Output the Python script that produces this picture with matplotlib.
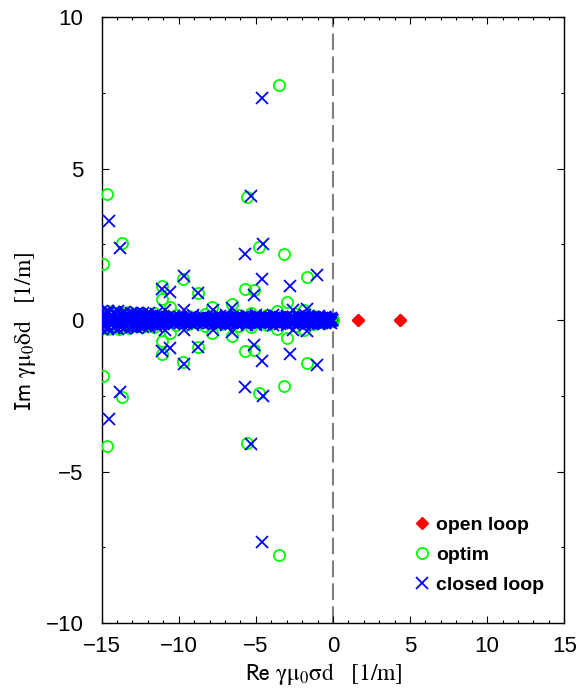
import numpy as np
import matplotlib
matplotlib.use("Agg")
import matplotlib.pyplot as plt

plt.rcParams['font.family'] = ['Liberation Sans', 'DejaVu Sans']
plt.rcParams['mathtext.fontset'] = 'stix'
plt.rcParams['mathtext.default'] = 'rm'

# ---- data: eigenvalues (upper half plane, conjugates are mirrored) ----
# open loop
open_re = [1.6, 4.36, -0.05, -0.18, -0.32, -0.47, -0.63, -0.8, -0.98, -1.17,
           -1.37, -1.58, -1.8, -2.05, -2.6, -3.3, -4.2, -5.4, -7.0, -9.0, -11.5, -14.2]
open_im = [0.0] * len(open_re)

# optim, off-axis pairs
optim_re = [-3.5, -14.65, -14.9, -13.7, -5.57, -4.8, -3.18, -9.72, -1.65, -11.1,
            -11.1, -10.56, -8.75, -7.84, -5.7, -5.12, -2.98, -6.55, -1.88, -3.63,
            -14.9, -14.55, -14.2, -13.9, -13.55, -13.2, -12.8, -12.4, -12.0, -11.6,
            -10.2, -9.3, -8.3, -7.2, -6.1, -5.3, -4.3, -2.4, -1.2, -0.6]
optim_im = [7.75, 4.15, 1.84, 2.54, 4.06, 2.41, 2.18, 1.37, 1.42, 1.12,
            0.69, 0.43, 0.89, 0.43, 1.02, 0.99, 0.59, 0.53, 0.33, 0.3,
            0.25, 0.3, 0.2, 0.28, 0.22, 0.27, 0.17, 0.24, 0.14, 0.22,
            0.17, 0.14, 0.2, 0.12, 0.18, 0.22, 0.16, 0.2, 0.14, 0.08]

# optim, real axis
optim_band = [-14.95, -14.7, -14.45, -14.2, -13.95, -13.7, -13.45, -13.2, -12.95, -12.7,
              -12.45, -12.2, -11.95, -11.7, -11.45, -11.2, -10.95, -10.7, -10.45, -10.2,
              -9.95, -9.7, -9.45, -9.2, -8.95, -8.7, -8.45, -8.2, -7.95, -7.7,
              -7.45, -7.2, -6.95, -6.7, -6.45, -6.2, -5.95, -5.7, -5.45, -5.2,
              -4.95, -4.7, -4.45, -4.2, -3.95, -3.7, -3.45, -3.2, -2.95, -2.7,
              -2.45, -2.2, -1.95, -1.7, -1.45, -1.2, -0.95, -0.7, -0.45, -0.2, 0.0]

# closed loop, off-axis pairs
closed_re = [-4.6, -14.5, -13.8, -5.31, -5.7, -4.54, -9.66, -1.04, -11.1, -10.56,
             -8.75, -4.6, -5.12, -2.79, -10.9, -9.66, -7.78, -6.55, -2.6, -1.69,
             -14.97, -14.8, -14.6, -14.4, -14.2, -13.95, -13.7, -13.5, -13.3, -13.1,
             -12.9, -12.7, -12.5, -12.3, -12.1, -11.9, -11.7, -11.5, -11.3, -10.3,
             -9.1, -8.4, -7.3, -6.9, -6.2, -5.6, -5.0, -4.4, -3.9, -3.4,
             -3.0, -2.2, -1.8, -1.3, -0.9, -0.5, -0.15]
closed_im = [7.33, 3.27, 2.38, 4.09, 2.2, 2.52, 1.45, 1.49, 1.02, 0.92,
             0.89, 1.35, 0.82, 1.12, 0.33, 0.33, 0.33, 0.39, 0.33, 0.36,
             0.3, 0.2, 0.3, 0.16, 0.26, 0.3, 0.19, 0.27, 0.14, 0.24,
             0.18, 0.25, 0.14, 0.22, 0.16, 0.23, 0.13, 0.19, 0.12, 0.14,
             0.16, 0.12, 0.14, 0.17, 0.12, 0.15, 0.17, 0.13, 0.16, 0.12,
             0.15, 0.13, 0.16, 0.12, 0.13, 0.1, 0.08]

# closed loop, small imaginary parts filling the band
fill_re = [-14.92, -14.75, -14.55, -14.36, -14.15, -13.98, -13.77, -13.58, -13.4, -13.2,
           -13.01, -12.83, -12.62, -12.44, -12.25, -12.05, -11.86, -11.67, -11.48, -11.28,
           -11.08, -10.88, -10.7, -10.5, -10.31, -10.12, -9.93, -9.74, -9.55, -9.36,
           -9.17, -8.98, -8.79, -8.6, -8.41, -8.22, -8.03, -7.85, -7.66, -7.47,
           -7.28, -7.1, -6.91, -6.72, -6.54, -6.35, -6.17, -5.98, -5.8, -5.62,
           -5.43, -5.25, -5.07, -4.89, -4.71, -4.53, -4.35, -4.17, -3.99, -3.82,
           -3.64, -3.47, -3.29, -3.12, -2.95, -2.78, -2.61, -2.44, -2.27, -2.1,
           -1.94, -1.78, -1.62, -1.46, -1.3, -1.15, -1.0, -0.85, -0.7, -0.56,
           -0.42, -0.28]
fill_im = [0.2, 0.12, 0.22, 0.1, 0.19, 0.13, 0.21, 0.09, 0.18, 0.12,
           0.2, 0.1, 0.16, 0.08, 0.14, 0.1, 0.15, 0.08, 0.12, 0.07,
           0.1, 0.06, 0.09, 0.05, 0.08, 0.06, 0.09, 0.05, 0.08, 0.06,
           0.09, 0.05, 0.08, 0.06, 0.09, 0.05, 0.08, 0.06, 0.09, 0.05,
           0.08, 0.06, 0.09, 0.05, 0.08, 0.06, 0.1, 0.06, 0.09, 0.07,
           0.1, 0.06, 0.09, 0.07, 0.1, 0.06, 0.09, 0.07, 0.1, 0.06,
           0.09, 0.07, 0.1, 0.06, 0.09, 0.07, 0.1, 0.06, 0.09, 0.07,
           0.1, 0.06, 0.09, 0.07, 0.1, 0.06, 0.09, 0.07, 0.08, 0.06,
           0.07, 0.05]

# closed loop, real axis
closed_band = [-14.98, -14.85, -14.71, -14.6, -14.47, -14.33, -14.2, -14.08, -13.95, -13.81,
               -13.7, -13.56, -13.43, -13.31, -13.18, -13.05, -12.92, -12.8, -12.66, -12.53,
               -12.41, -12.28, -12.15, -12.02, -11.9, -11.77, -11.64, -11.52, -11.39, -11.26,
               -11.14, -11.01, -10.89, -10.76, -10.64, -10.51, -10.39, -10.27, -10.14, -10.02,
               -9.9, -9.77, -9.65, -9.53, -9.41, -9.29, -9.17, -9.05, -8.93, -8.81,
               -8.69, -8.57, -8.45, -8.34, -8.22, -8.1, -7.99, -7.87, -7.76, -7.64,
               -7.53, -7.41, -7.3, -7.19, -7.07, -6.96, -6.85, -6.74, -6.63, -6.52,
               -6.41, -6.3, -6.19, -6.08, -5.98, -5.87, -5.76, -5.66, -5.55, -5.45,
               -5.34, -5.24, -5.13, -5.03, -4.93, -4.83, -4.73, -4.63, -4.53, -4.43,
               -4.33, -4.23, -4.13, -4.03, -3.94, -3.84, -3.75, -3.65, -3.56, -3.46,
               -3.37, -3.28, -3.19, -3.1, -3.01, -2.92, -2.83, -2.74, -2.65, -2.57,
               -2.48, -2.4, -2.31, -2.23, -2.15, -2.07, -1.98, -1.9, -1.82, -1.75,
               -1.67, -1.59, -1.51, -1.44, -1.36, -1.29, -1.22, -1.14, -1.07, -1.0,
               -0.93, -0.86, -0.8, -0.73, -0.66, -0.6, -0.54, -0.47, -0.41, -0.35,
               -0.29, -0.24, -0.18, -0.13, -0.08, -0.03]


def mirror(re, im):
    re = np.asarray(re, float)
    im = np.asarray(im, float)
    return np.concatenate([re, re]), np.concatenate([im, -im])


fig = plt.figure(figsize=(5.77, 6.9), dpi=100)
ax = fig.add_axes([0.176, 0.097, 0.802, 0.878])

ax.axvline(0, color='#808080', lw=1.5, dashes=(8, 3), zorder=1)

x, y = mirror(open_re, open_im)
ax.plot(x, y, ls='none', marker='D', ms=6, color='#ff0000', mec='#ff0000',
        label='open loop', zorder=2)

x, y = mirror(optim_re + optim_band, optim_im + [0.0] * len(optim_band))
ax.plot(x, y, ls='none', marker='o', ms=8, mfc='none', mec='#00ff00', mew=1.3,
        label='optim', zorder=3)

x, y = mirror(closed_re + fill_re + closed_band,
              closed_im + fill_im + [0.0] * len(closed_band))
ax.plot(x, y, ls='none', marker='x', ms=8, color='#0000ff', mew=1.3,
        label='closed loop', zorder=4)

ax.set_xlim(-15, 15)
ax.set_ylim(-10, 10)
ax.set_xticks([-15, -10, -5, 0, 5, 10, 15])
ax.set_yticks([-10, -5, 0, 5, 10])
ax.set_xticks(np.arange(-15, 16, 1), minor=True)
ax.set_yticks(np.arange(-10, 10.1, 2.5), minor=True)
ax.tick_params(which='both', direction='in', top=True, right=True, width=0.8,
               labelsize=16)
ax.tick_params(which='major', length=5)
ax.tick_params(axis='x', which='major', pad=9)
ax.tick_params(axis='y', which='major', pad=13)
ax.tick_params(which='minor', length=2.5)
for s in ax.spines.values():
    s.set_linewidth(1.0)

ax.set_xlabel(r'$\mathsf{Re}\ \gamma\mu_0\sigma d\ \ \ [1/m]$', fontsize=17)
ax.set_ylabel(r'$\mathsf{Im}\ \gamma\mu_0\delta d\ \ \ [1/m]$', fontsize=17)
ax.xaxis.set_label_coords(0.48, -0.063)
ax.yaxis.set_label_coords(-0.138, 0.482)

ax.legend(loc='upper left', bbox_to_anchor=(0.697, 0.266), bbox_transform=fig.transFigure,
          frameon=False, handlelength=1.0, handletextpad=0.25, borderpad=0,
          labelspacing=0.64, prop={'weight': 'bold', 'size': 14})

fig.savefig('out.png', dpi=100)
